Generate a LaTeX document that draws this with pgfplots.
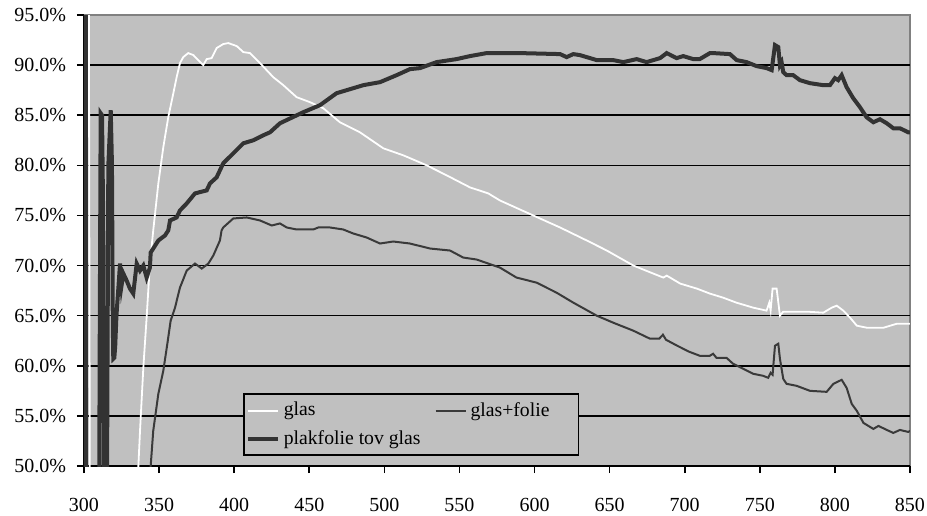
\documentclass[border=0pt]{standalone}
\usepackage{fontspec}
\setmainfont{Liberation Serif}
\usepackage{pgfplots}
\pgfplotsset{compat=1.18}
\definecolor{plotbg}{HTML}{C0C0C0}
\definecolor{framegray}{HTML}{808080}
\definecolor{darkline}{HTML}{333333}
\definecolor{midline}{HTML}{3A3A3A}

\begin{document}
\begin{tikzpicture}
\useasboundingbox (-42pt,-24.5pt) rectangle (421.5pt,233pt);
\begin{axis}[
  scale only axis, width=413pt, height=225.5pt,
  xmin=300, xmax=850, ymin=50, ymax=95,
  axis lines=left,
  axis line style={-, black, line width=1pt},
  axis background/.style={fill=plotbg, draw=framegray, line width=1pt},
  xtick={300,350,...,850},
  ytick={50,55,...,90},
  yticklabels={50.0\%,55.0\%,60.0\%,65.0\%,70.0\%,75.0\%,80.0\%,85.0\%,90.0\%},
  extra y ticks={95}, extra y tick labels={95.0\%},
  extra y tick style={grid=none},
  ymajorgrids, grid style={black, line width=0.75pt},
  tick align=outside, major tick length=3.5pt,
  tick style={black, line width=0.8pt},
  /pgf/number format/assume math mode=true,
  tick label style={font=\fontsize{10}{11}\selectfont},
  yticklabel style={xshift=-2pt},
  xticklabel style={anchor=base, inner sep=0pt, yshift=-19pt},
  legend columns=2,
  legend cell align=left,
  legend image code/.code={\draw[#1] (0pt,0pt) -- (15pt,0pt);},
  legend style={at={(0.1925,0.161)}, anchor=north west,
    fill=plotbg, draw=black, line width=0.8pt,
    font=\fontsize{9.85}{11}\selectfont,
    inner xsep=1pt, inner ysep=2pt, row sep=1.5pt,
    /tikz/every even column/.append style={column sep=5pt}},
]
% glas
\addplot[white, line width=0.9pt] coordinates {
(303.2,100)(304,40)(335.5,45)(336.2,50)(337.3,53.5)(339.5,59.8)(341.7,64.8)(343.9,70.2)
(346.1,73.5)(349.5,78.2)(352.8,81.8)(356.1,84.8)(359.5,87.2)(361.7,88.8)(363.9,90.2)
(366.1,90.8)(369.4,91.2)(372.8,91.0)(376.1,90.5)(379.4,90.0)(381.7,90.6)(385,90.7)
(388.3,91.7)(392.7,92.1)(396.1,92.2)(401.7,91.9)(406.1,91.3)(410.5,91.2)(417.2,90.2)
(421.6,89.5)(426,88.8)(432.7,88.0)(441.6,86.8)(450.5,86.3)(459.3,85.7)(470.4,84.3)
(483.7,83.3)(499.3,81.7)(512.6,81.0)(528.2,80.0)(541.5,79.0)(557,77.8)(569.2,77.2)
(576.9,76.5)(599.1,75.0)(617,73.8)(634.8,72.5)(648.1,71.5)(665.8,70.0)(679.1,69.2)
(685.8,68.8)(688,69.0)(697,68.2)(708.1,67.7)(716.8,67.2)(725.5,66.8)(734.4,66.3)
(745.6,65.8)(754.5,65.5)(756.3,66.3)(757.2,65.5)(758.5,67.7)(761.2,67.7)(763.4,65.0)
(765.6,65.4)(781.2,65.4)(792.3,65.3)(797.9,65.8)(801.2,66.0)(805.6,65.5)(810.1,64.8)
(814.6,64.0)(821.2,63.8)(832.4,63.8)(841.3,64.2)(850,64.2)
};
\addlegendentry{glas}
% glas+folie
\addplot[midline, line width=1pt] coordinates {
(344,45)(344.4,50)(346.1,53.5)(349.5,57.2)(352.8,59.5)(355.5,62.2)(357.7,64.5)
(360.6,65.8)(363.9,67.8)(368.4,69.5)(373.9,70.2)(378.4,69.7)(382.8,70.2)(386.1,71.0)
(390.5,72.5)(391.6,73.5)(392.7,73.8)(399.4,74.7)(408.3,74.8)(417.2,74.5)(425,74.0)
(430.5,74.2)(435,73.8)(441.6,73.6)(452.7,73.6)(456,73.8)(463.8,73.8)(472.6,73.6)
(479.3,73.2)(488.2,72.8)(497.1,72.2)(505.9,72.4)(517,72.2)(530.4,71.7)(543.7,71.5)
(552.5,70.8)(561.5,70.6)(569.2,70.2)(576.9,69.8)(588,68.8)(601.3,68.3)(614.6,67.3)
(625.8,66.3)(641.4,65.0)(652.4,64.3)(665.8,63.5)(676.9,62.7)(683,62.7)(685.5,63.1)
(687.5,62.6)(695,62.0)(703,61.4)(710,61.0)(716.7,61.0)(718.9,61.2)(721.1,60.8)
(727.8,60.8)(732.2,60.2)(738.9,59.7)(745.6,59.2)(752.2,59.0)(755.6,58.8)(757.2,59.3)
(758.5,59.1)(760.1,62.0)(762.3,62.2)(763.4,60.7)(765.6,58.7)(767.8,58.2)(774.5,58.0)
(783.4,57.5)(794.5,57.4)(799,58.2)(804.5,58.6)(807.8,57.8)(811.2,56.2)(814.6,55.5)
(819,54.3)(825.6,53.7)(829,54.0)(834.5,53.6)(838.9,53.3)(843.3,53.6)(848.8,53.4)(850,53.5)
};
\addlegendentry{\makebox[51pt][l]{glas+folie}}
% plakfolie tov glas
\addplot[darkline, line width=2pt] coordinates {
(301.3,100)(301.3,40)(310,40)(310.4,60)(311.1,85.2)(312,85)(312.8,74.5)(313.4,40)
(315.1,40)(316.2,80)(317.8,85.5)(318.6,80.2)(319.2,64)(319.5,60.7)(320.2,60.8)
(320.8,62)(321.6,65)(323,68)(324,70.2)(325,68.0)(326.2,69.2)(328.4,68.5)(330.6,67.7)
(332.8,67.2)(335.1,70.2)(337.3,69.5)(339.5,70.0)(341.7,68.8)(343.9,69.8)(344.4,71.3)
(346.1,71.7)(349.5,72.5)(353.9,73.0)(356.1,73.5)(357.3,74.5)(361.7,74.8)(363.9,75.5)
(368.4,76.2)(373.9,77.2)(381.7,77.5)(383.9,78.2)(388.3,78.8)(392.7,80.2)(399.4,81.2)
(406.1,82.2)(412.7,82.5)(419.4,83.0)(423.9,83.3)(430.5,84.2)(446,85.3)(457.1,86.0)
(468.2,87.2)(486,88.0)(497.1,88.3)(508.2,89.0)(517,89.6)(523.7,89.7)(534.8,90.3)
(548.1,90.6)(557,90.9)(568.1,91.2)(579.2,91.2)(590.3,91.2)(617,91.1)(621.4,90.8)
(625.8,91.1)(630.2,91.0)(641.4,90.5)(652.4,90.5)(659.1,90.3)(668,90.6)(674.6,90.3)
(683.6,90.7)(688,91.2)(694.6,90.7)(699,90.9)(705.7,90.6)(710,90.6)(716.8,91.2)
(719,91.2)(730.1,91.1)(734.6,90.5)(741.2,90.3)(747.9,89.9)(754.5,89.7)(757.9,89.5)
(760.1,92.0)(762.3,91.8)(763.4,90.0)(764.5,90.3)(765.6,89.3)(767.8,89.0)(772.2,89.0)
(776.7,88.5)(783.4,88.2)(787.8,88.1)(792.2,88.0)(796.7,88.0)(800,88.7)(802.2,88.5)
(804.5,89.0)(807.8,87.8)(812.2,86.7)(816.7,85.8)(821.1,84.8)(825.6,84.3)(830,84.6)
(834.5,84.2)(838.9,83.7)(843.3,83.7)(848.8,83.3)(850,83.3)
};
\addlegendentry{\raisebox{0pt}[7pt][8pt]{plakfolie tov glas}}
\end{axis}
\end{tikzpicture}
\end{document}
